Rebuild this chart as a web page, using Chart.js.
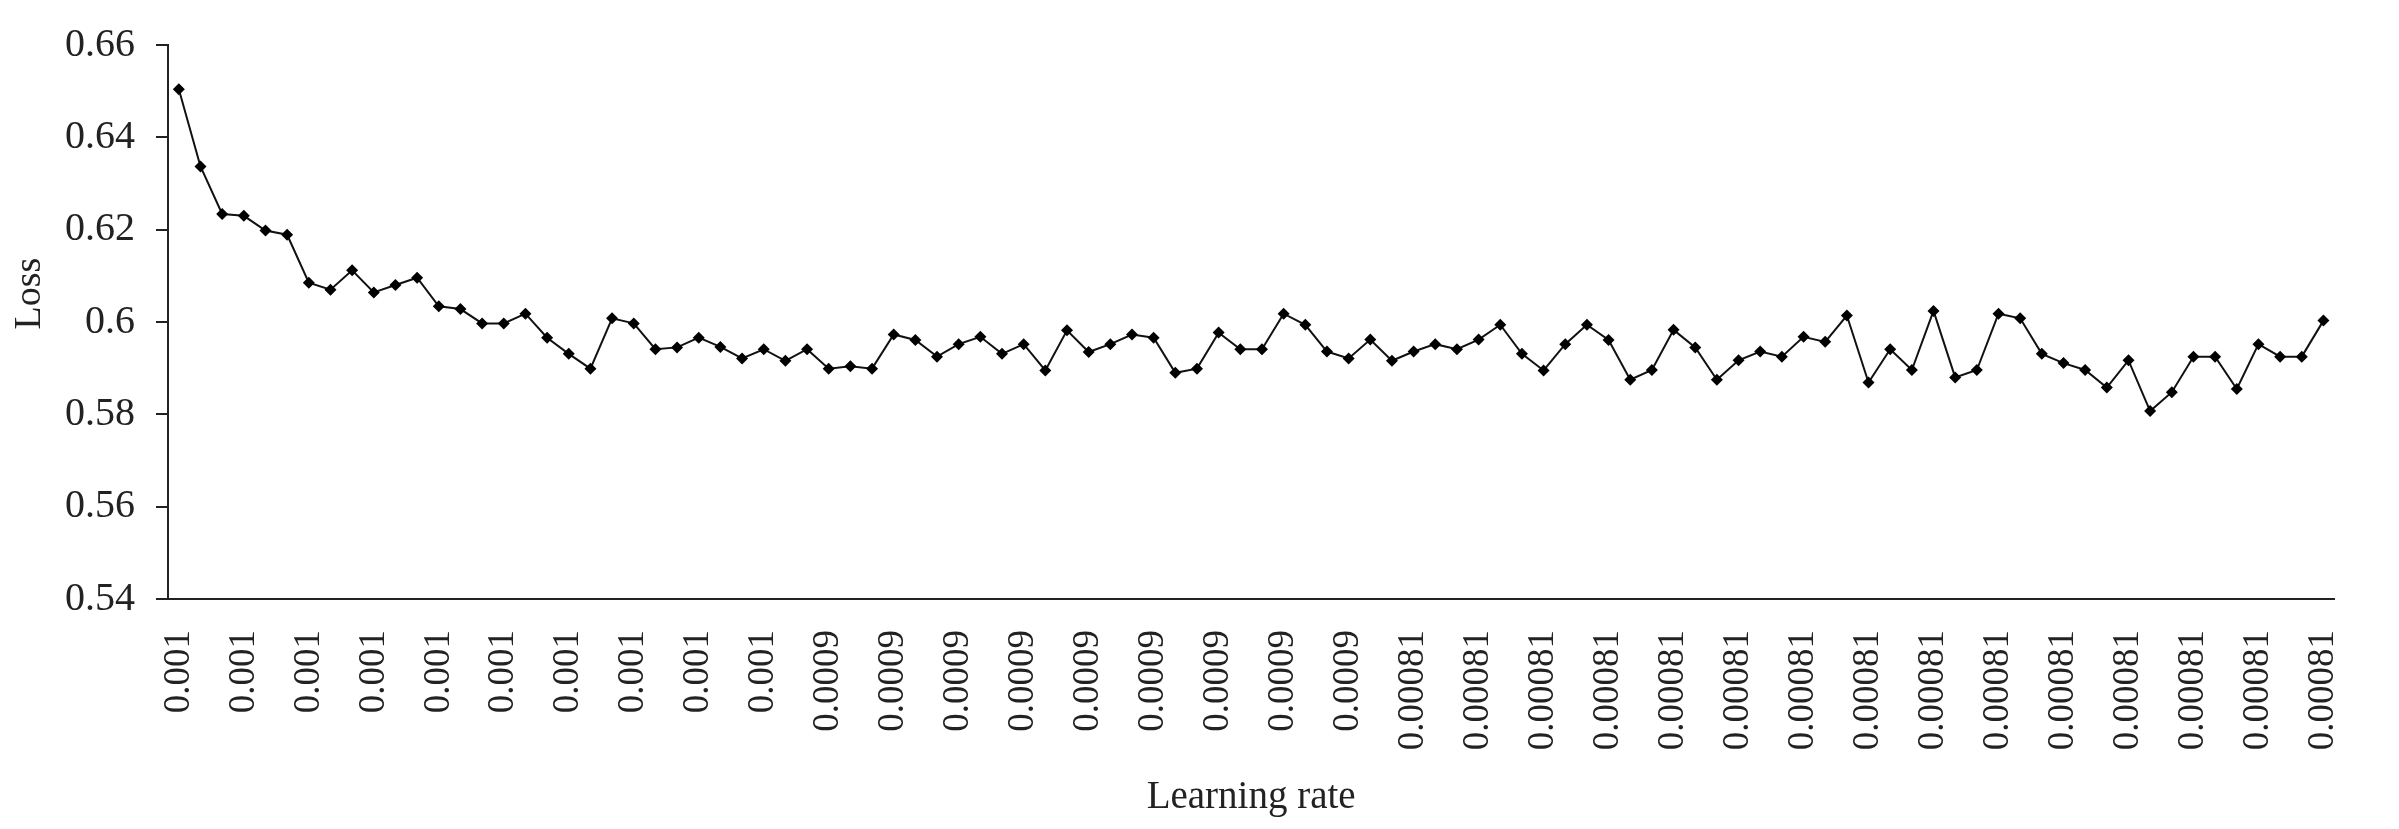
<!DOCTYPE html>
<html>
<head>
<meta charset="utf-8">
<script src="https://cdn.jsdelivr.net/npm/chart.js@4"></script>
<style>
  html, body { margin: 0; padding: 0; background: #fff; }
  #wrap { width: 2399px; height: 829px; }
</style>
</head>
<body>
<div id="wrap"><canvas id="loss-chart" width="2399" height="829"></canvas></div>
<script>
// learning rate per epoch, as blocks [label, count]
const lrBlocks = [['0.001', 30], ['0.0009', 27], ['0.00081', 43]];
const categories = [];
lrBlocks.forEach(([lr, n]) => { for (let k = 0; k < n; k++) categories.push(lr); });

const lossValues = [
  0.6504, 0.6337, 0.6234, 0.6230, 0.6198, 0.6189, 0.6085, 0.6070, 0.6112, 0.6064,
  0.6080, 0.6096, 0.6034, 0.6028, 0.5997, 0.5997, 0.6018, 0.5966, 0.5931, 0.5899,
  0.6008, 0.5997, 0.5941, 0.5945, 0.5966, 0.5946, 0.5921, 0.5941, 0.5916, 0.5941,
  0.5899, 0.5904, 0.5899, 0.5973, 0.5961, 0.5925, 0.5952, 0.5968, 0.5931, 0.5952,
  0.5895, 0.5982, 0.5935, 0.5952, 0.5973, 0.5966, 0.5890, 0.5899, 0.5977, 0.5941,
  0.5941, 0.6018, 0.5994, 0.5936, 0.5921, 0.5962, 0.5916, 0.5936, 0.5952, 0.5941,
  0.5962, 0.5994, 0.5931, 0.5895, 0.5952, 0.5994, 0.5961, 0.5875, 0.5896, 0.5983,
  0.5945, 0.5875, 0.5917, 0.5936, 0.5925, 0.5968, 0.5957, 0.6014, 0.5869, 0.5941,
  0.5896, 0.6024, 0.5880, 0.5896, 0.6018, 0.6008, 0.5931, 0.5911, 0.5896, 0.5858,
  0.5917, 0.5807, 0.5848, 0.5925, 0.5925, 0.5855, 0.5952, 0.5925, 0.5925, 0.6003
];

const yTicks = [0.54, 0.56, 0.58, 0.6, 0.62, 0.64, 0.66];
const labelEvery = 3;

const FONT = "'Liberation Serif', 'Times New Roman', serif";
const INK = '#222';

const canvas = document.getElementById('loss-chart');
new Chart(canvas, {
  type: 'line',
  data: {
    labels: categories,
    datasets: [{
      label: 'Loss',
      data: lossValues,
      borderColor: '#111', borderWidth: 2,
      backgroundColor: '#000',
      pointStyle: 'rectRot', pointRadius: 6, pointBorderWidth: 0,
      pointBackgroundColor: '#000',
      tension: 0, fill: false
    }]
  },
  options: {
    responsive: false, animation: false,
    layout: { padding: { left: 0, right: 31, top: 30, bottom: 0 } },
    plugins: { legend: { display: false }, tooltip: { enabled: false } },
    scales: {
      x: {
        type: 'category', offset: true,
        grid: { display: true, drawOnChartArea: false, drawTicks: false },
        border: { display: true, color: '#222', width: 2 },
        ticks: {
          autoSkip: false, minRotation: 90, maxRotation: 90, padding: 31,
          color: INK, font: { family: FONT, size: 37 },
          callback: (v, i) => i % labelEvery === 0 ? categories[i] : ''
        },
        title: { display: true, text: 'Learning rate', color: INK,
                 font: { family: FONT, size: 39 }, padding: { top: 0, bottom: 8 } },
        afterFit: s => { s.height = 829 - 599; }
      },
      y: {
        min: 0.54, max: 0.66,
        afterBuildTicks: s => { s.ticks = yTicks.map(v => ({ value: v })); },
        grid: { display: true, drawOnChartArea: false, drawTicks: true, tickLength: 12,
                color: '#222', lineWidth: 2 },
        border: { display: true, color: '#222', width: 2 },
        ticks: {
          padding: 21, color: INK, font: { family: FONT, size: 40 },
          callback: v => String(parseFloat(Number(v).toFixed(2)))
        },
        // leading spaces nudge the rotated title slightly above centre, as in the source
        title: { display: true, text: '      Loss', color: INK,
                 font: { family: FONT, size: 38 }, padding: { top: 7, bottom: 0 } },
        afterFit: s => { s.width = 168; }
      }
    }
  }
});
</script>
</body>
</html>
